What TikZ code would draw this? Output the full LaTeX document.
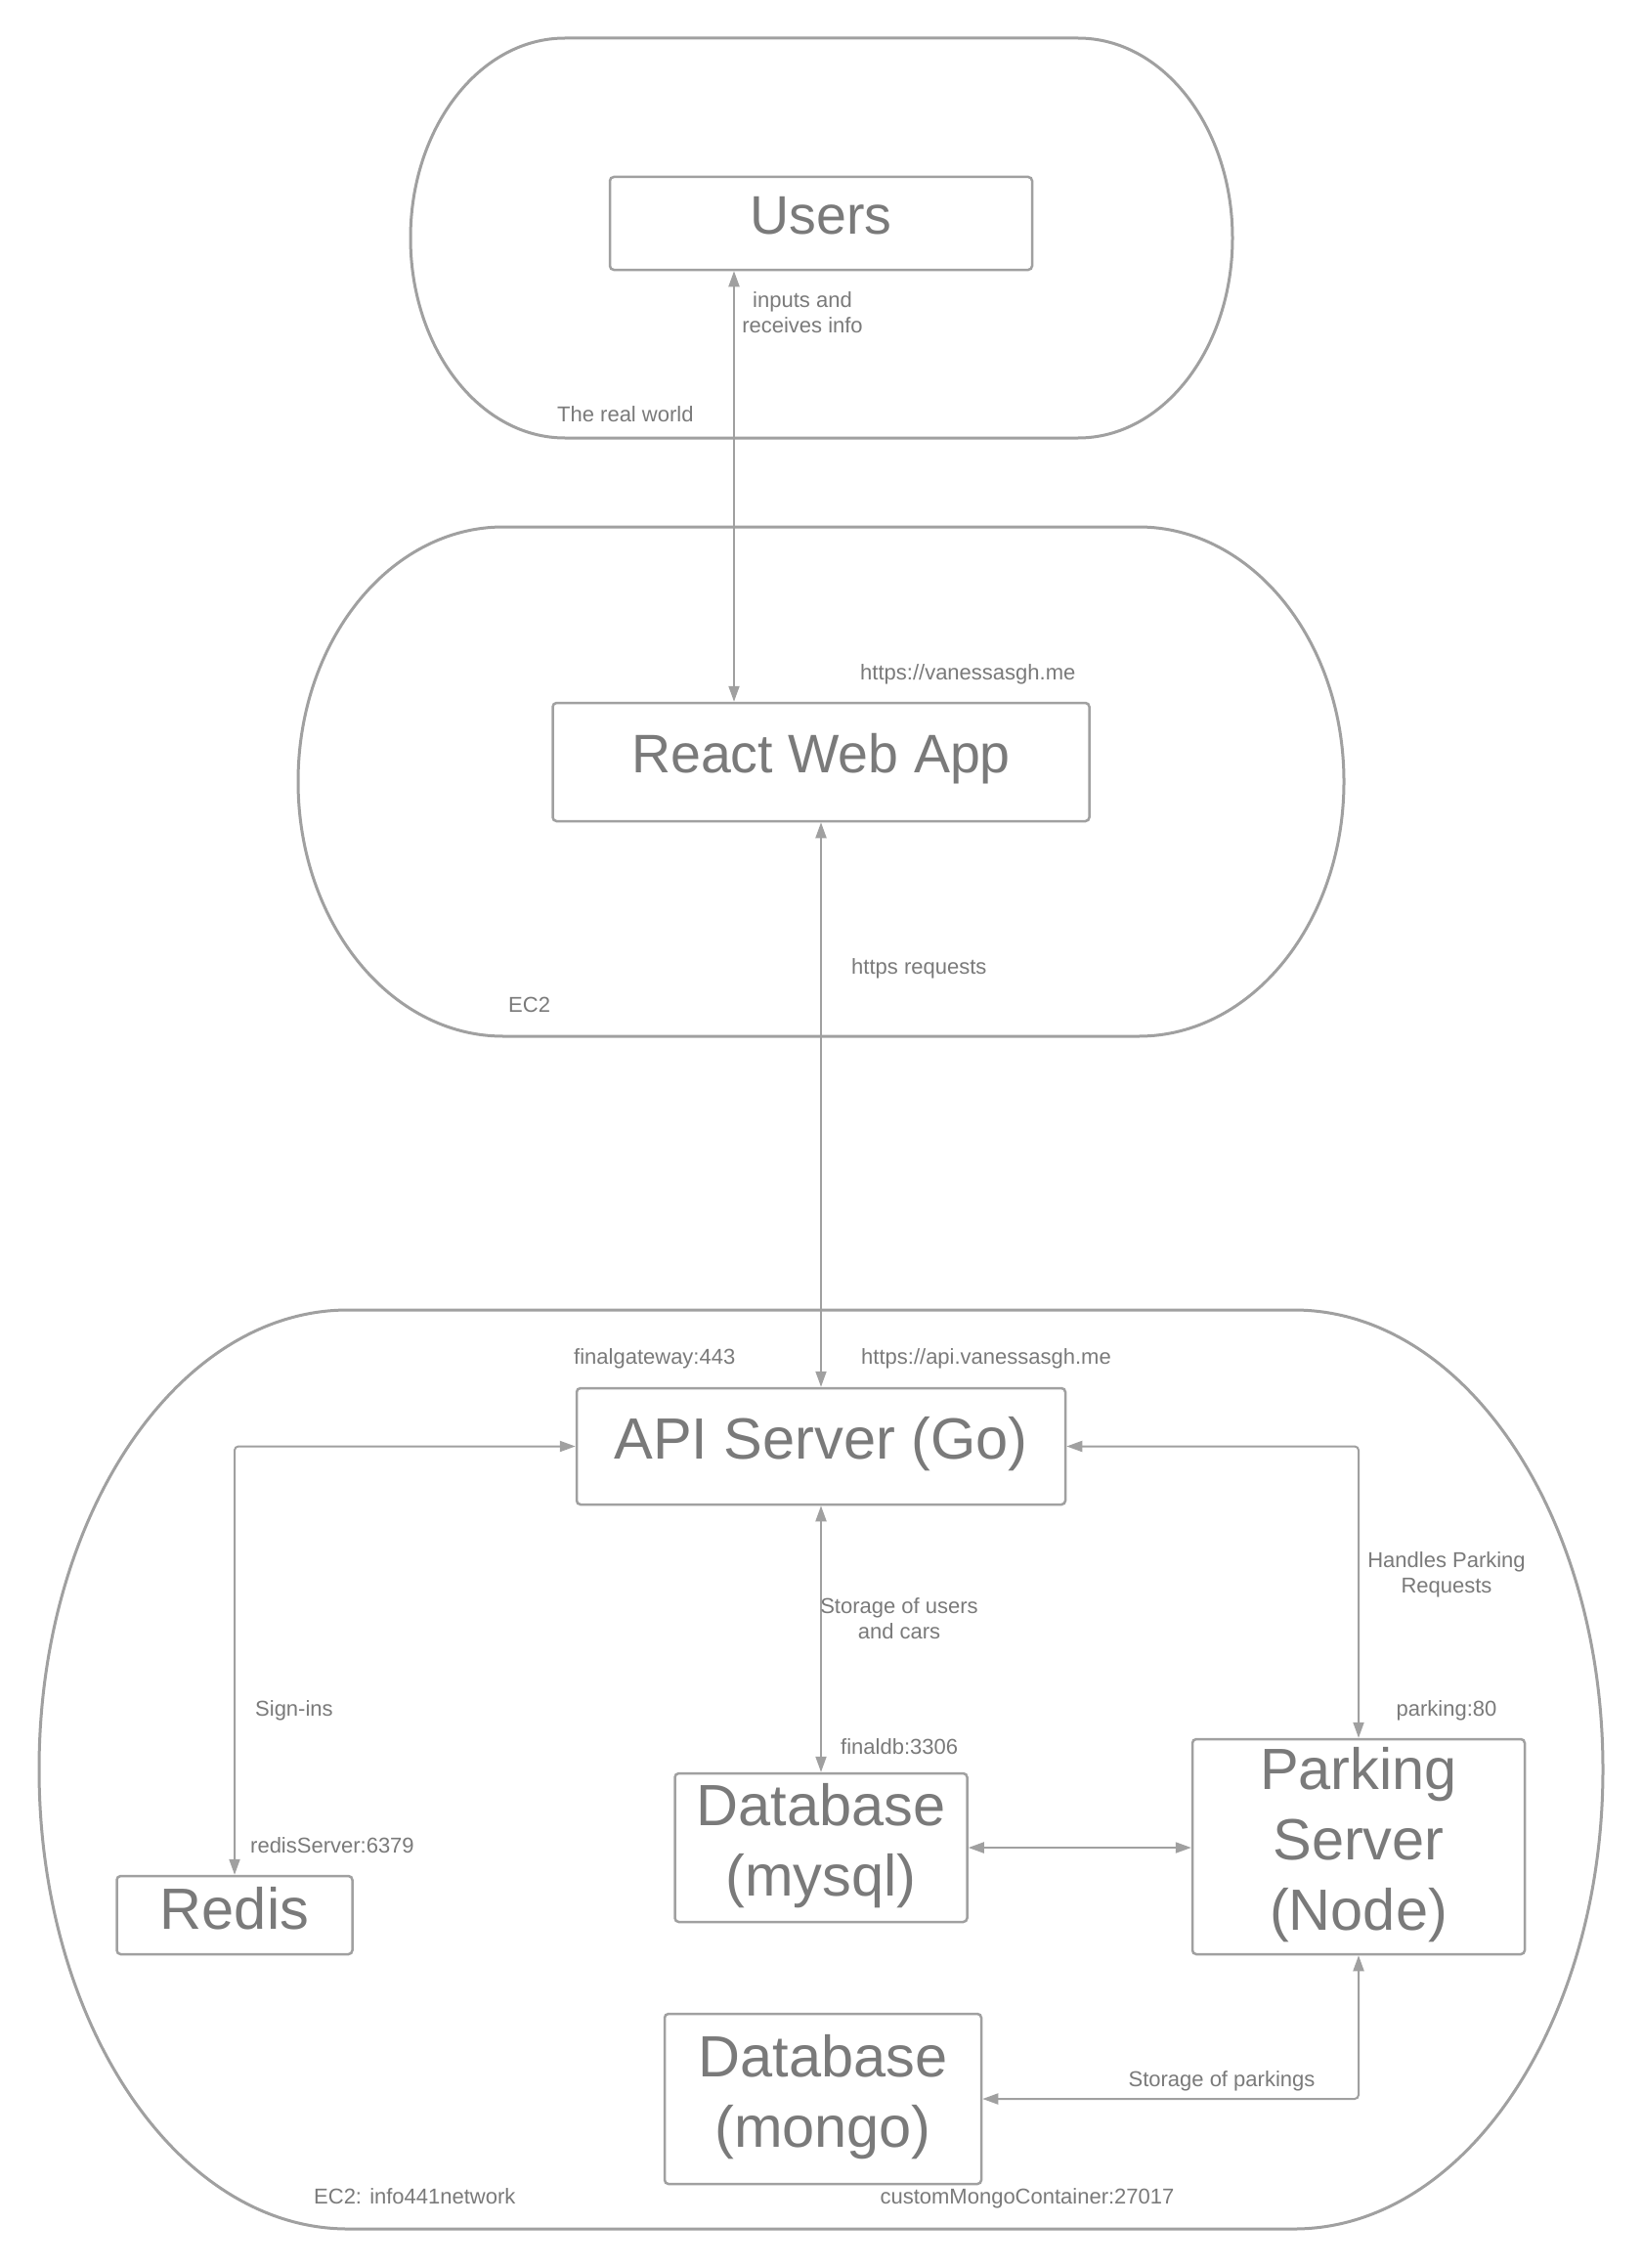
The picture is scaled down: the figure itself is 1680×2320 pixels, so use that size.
\documentclass[tikz,border=0pt]{standalone}
\usepackage{fontspec}
\setmainfont{Liberation Sans}
\usetikzlibrary{arrows.meta}
\definecolor{linegray}{HTML}{A0A0A0}
\definecolor{txtgray}{HTML}{7A7A7A}
\newcommand\Tstr[1]{\rule{0pt}{#1em}}
\newcommand\Bstr[1]{\rule[-#1em]{0pt}{#1em}}
\newcommand\regionshape[5]{%
  \pgfmathsetmacro\rgA{#1+#5}\pgfmathsetmacro\rgB{#2-#5}%
  \pgfmathsetmacro\rgM{(#3+#4)/2}\pgfmathsetmacro\rgKx{0.5523*#5}%
  \pgfmathsetmacro\rgKy{0.5523*(#4-#3)/2}%
  \pgfmathsetmacro\rgAk{\rgA-\rgKx}\pgfmathsetmacro\rgBk{\rgB+\rgKx}%
  \pgfmathsetmacro\rgMu{\rgM-\rgKy}\pgfmathsetmacro\rgMd{\rgM+\rgKy}%
  \draw[region] (\rgA,#3) -- (\rgB,#3) .. controls (\rgBk,#3) and (#2,\rgMu) .. (#2,\rgM)
    .. controls (#2,\rgMd) and (\rgBk,#4) .. (\rgB,#4) -- (\rgA,#4)
    .. controls (\rgAk,#4) and (#1,\rgMd) .. (#1,\rgM)
    .. controls (#1,\rgMu) and (\rgAk,#3) .. (\rgA,#3) -- cycle;
}
\tikzset{
  region/.style={draw=linegray, line width=3pt},
  box/.style={draw=linegray, line width=2.5pt, rounded corners=4pt, fill=white,
    text=txtgray, align=center, inner sep=0pt},
  bigl/.style={font=\fontsize{59.5}{72}\selectfont},
  bigu/.style={font=\fontsize{55.5}{68}\selectfont},
  lbl/.style={text=txtgray, font=\fontsize{22}{26}\selectfont, inner sep=0pt},
  conn/.style={draw=linegray, line width=2pt, rounded corners=4pt,
    {Triangle[length=16pt,width=11pt]}-{Triangle[length=16pt,width=11pt]}}
}
\begin{document}
\begin{tikzpicture}[x=1pt,y=-1pt]
\path[use as bounding box, fill=white] (0,0) rectangle (1680,2320);

% containers
\regionshape{420}{1261}{39}{448}{158}
\regionshape{305}{1375}{539}{1060}{210}
\regionshape{40}{1640}{1340}{2280}{316}

% boxes
\node[box, bigu, minimum width=432pt, minimum height=95pt] (users) at (840,228.5)
  {\Tstr{0.8}Users\Bstr{0.42}};
\node[box, bigu, minimum width=549pt, minimum height=121pt] (react) at (840,779.5)
  {\Tstr{0.82}React Web App\Bstr{0.42}};
\node[box, bigl, minimum width=500pt, minimum height=119pt] (api) at (840,1479.5)
  {\Tstr{0.85}API Server (Go)\Bstr{0.4}};
\node[box, bigl, minimum width=241pt, minimum height=80pt] (redis) at (240,1959)
  {\Tstr{0.87}Redis\Bstr{0.4}};
\node[box, bigl, minimum width=299pt, minimum height=152pt] (mysql) at (840,1890)
  {\Tstr{0.85}Database\\(mysql)\Bstr{0.4}};
\node[box, bigl, minimum width=340pt, minimum height=220pt] (parking) at (1390,1889)
  {\Tstr{0.85}Parking\\Server\\(Node)\Bstr{0.4}};
\node[box, bigl, minimum width=324pt, minimum height=174pt] (mongo) at (842,2147)
  {\Tstr{0.85}Database\\(mongo)\Bstr{0.4}};

% connectors
\coordinate (ux) at (751,0);
\draw[conn] (users.south -| ux) -- (react.north -| ux);
\draw[conn] (react.south) -- (api.north);
\draw[conn] (api.west) -- (api.west -| redis.north) -- (redis.north);
\draw[conn] (api.south) -- (mysql.north);
\draw[conn] (api.east) -- (api.east -| parking.north) -- (parking.north);
\draw[conn] (mysql.east) -- (mysql.east -| parking.west);
\draw[conn] (parking.south) -- (parking.south |- mongo.east) -- (mongo.east);

% labels
\node[lbl, align=center] (inputs) at (821,321.5) {\Tstr{0.75}inputs and\\receives info\Bstr{0.25}};
\node[lbl, anchor=base west] (realworld) at (570,431) {The real world};
\node[lbl, anchor=base west] (url1) at (880,695) {https://vanessasgh.me};
\node[lbl, anchor=base west] (httpsreq) at (871,996) {https requests};
\node[lbl, anchor=base west] (ec2a) at (520,1035) {EC2};
\node[lbl, anchor=base west] (gw) at (587,1395) {finalgateway:443};
\node[lbl, anchor=base west] (url2) at (881,1395) {https://api.vanessasgh.me};
\node[lbl, align=center] (handles) at (1480,1610.5) {\Tstr{0.75}Handles Parking\\Requests\Bstr{0.25}};
\node[lbl, align=center] (storeusers) at (920,1657.5) {\Tstr{0.75}Storage of users\\and cars\Bstr{0.25}};
\node[lbl, anchor=base west] (signins) at (261,1755.5) {Sign-ins};
\node[lbl, anchor=base] (parkport) at (1480,1755.5) {parking:80};
\node[lbl, anchor=base west] (dbport) at (860,1794) {finaldb:3306};
\node[lbl, anchor=base west] (redisport) at (256,1895) {redisServer:6379};
\node[lbl, anchor=base] (storepark) at (1250,2134) {Storage of parkings};
\node[lbl, anchor=base west] (ec2b) at (321,2254) {EC2: info441network};
\node[lbl, anchor=base] (mongoport) at (1051,2254) {customMongoContainer:27017};
\end{tikzpicture}
\end{document}
